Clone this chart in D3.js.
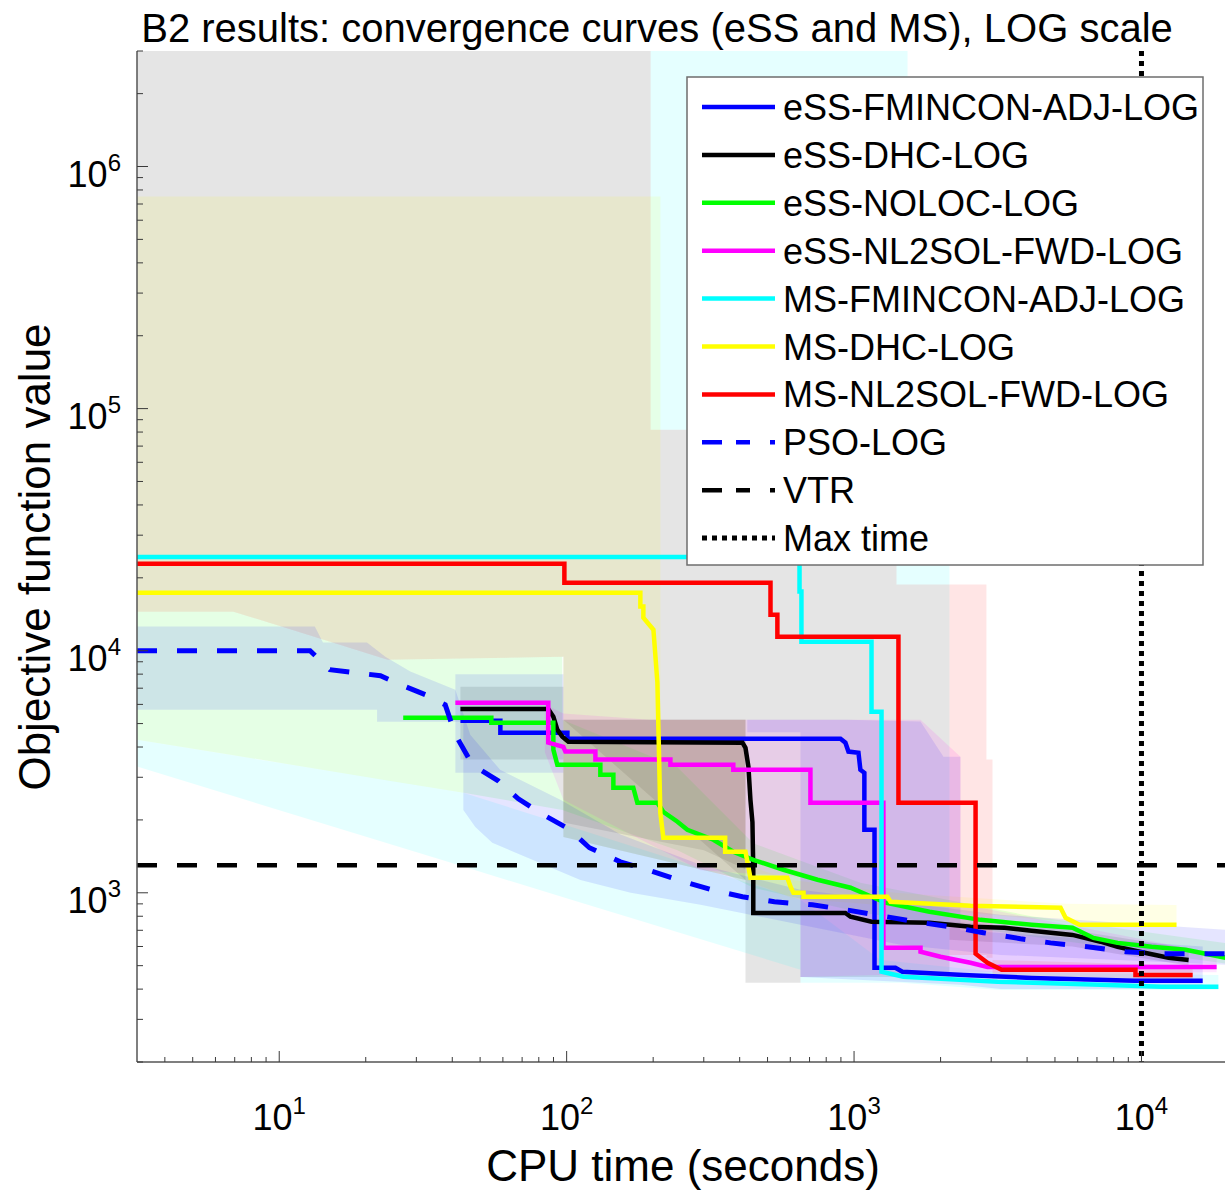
<!DOCTYPE html>
<html><head><meta charset="utf-8">
<script src="https://cdn.jsdelivr.net/npm/d3@7"></script>
<style>
body{margin:0;background:#fff}
svg{display:block}
text{font-family:"Liberation Sans",Arial,Helvetica,sans-serif;fill:#000}
</style>
</head><body>
<svg id="c" width="1225" height="1191"></svg>
<script>
// ---------------- DATA ----------------
const titleText = "B2 results: convergence curves (eSS and MS), LOG scale";
const xLabelText = "CPU time (seconds)";
const yLabelText = "Objective function value";

const seriesNames = ["eSS-FMINCON-ADJ-LOG","eSS-DHC-LOG","eSS-NOLOC-LOG","eSS-NL2SOL-FWD-LOG",
  "MS-FMINCON-ADJ-LOG","MS-DHC-LOG","MS-NL2SOL-FWD-LOG","PSO-LOG"];
const seriesColors = ["#0000ff","#000000","#00ff00","#ff00ff","#00ffff","#ffff00","#ff0000","#0000ff"];

// [CPU time (s), objective value]
const essFminconAdj = [[42.7,5140],[58.8,5140],[58.8,4580],[100.6,4580],[100.6,4330],[897,4330],[933,4170],[956,3830],[1036,3790],[1052,3220],[1086,3130],[1086,1820],[1178,1820],[1178,490],[1393,490],[1472,472],[2404,458],[4145,445],[9462,433],[16330,433]];
const essDhc = [[42.7,5750],[86.3,5750],[89.9,5340],[92.8,4720],[96.6,4410],[101.4,4210],[409,4170],[419,3970],[429,3320],[436,2420],[443,1960],[446,1245],[446,826],[933,826],[972,796],[1150,759],[1830,752],[2541,724],[3337,717],[4145,697],[5754,670],[7205,628],[8257,598],[10250,565],[12420,539],[14590,528]];
const essNoloc = [[27.0,5280],[54.7,5280],[54.7,5040],[89.9,5040],[89.9,3900],[92.8,3380],[131,3380],[131,3070],[145.4,3070],[145.4,2715],[170.6,2715],[176.2,2355],[206.9,2355],[217,2160],[243,1965],[263,1820],[324,1656],[380,1477],[446,1368],[568,1245],[746,1132],[972,1049],[1285,910],[1830,835],[2754,773],[4145,738],[5754,717],[6808,651],[8257,621],[10840,598],[14240,582],[19620,539]];
const essNl2solFwd = [[41.0,6100],[86.3,6100],[86.3,4170],[97.4,4010],[99.0,3830],[125.9,3830],[125.9,3550],[229.6,3550],[229.6,3380],[380,3380],[380,3220],[705,3220],[705,2355],[1265,2355],[1265,593],[1703,593],[1703,571],[1999,544],[2541,514],[2911,494],[18260,494]];
const msFminconAdj = [[3.2,24400],[646,24400],[646,17540],[656,17540],[656,10890],[1150,10890],[1150,5600],[1246,5600],[1246,472],[1486,450],[3155,429],[7205,417],[11750,409],[18520,409]];
const msDhc = [[3.2,17370],[180.5,17370],[180.5,15210],[184.9,15210],[184.9,13690],[200.4,12210],[206.9,7380],[211.8,2140],[217,1687],[356,1687],[356,1477],[419,1477],[436,1153],[586,1153],[601,1059],[615,1000],[667,1000],[667,963],[1306,963],[1339,918],[2541,884],[5230,867],[5445,789],[6088,738],[13240,738]];
const msNl2solFwd = [[3.2,22880],[98.2,22880],[98.2,19100],[512,19100],[512,14090],[541,14090],[541,11430],[1427,11430],[1427,2355],[2647,2355],[2647,560],[2913,514],[3260,481],[9530,481],[9530,458],[15070,458]];
const psoLog = [[3.2,10000],[12.8,10000],[15.0,8350],[22.5,7880],[26.4,7240],[32.2,6580],[37.8,5980],[41.0,4500],[47.0,3380],[57.8,2900],[67.9,2445],[82.9,2100],[101.4,1840],[120,1535],[153.8,1343],[191,1245],[243,1132],[329,1019],[409,963],[528,918],[716,892],[933,851],[1236,804],[1637,759],[2165,724],[2818,684],[3793,646],[4826,621],[6490,598],[8806,571],[11650,560],[20000,560]];

const vtrValue = 1300;
const maxTimeValue = 10000;

// shaded ranges: upper (hi) and lower (lo) boundaries, [time, value], both in increasing time
const bandDhc = [
  {hi:[[3.2,5e6],[196,5e6],[196,81800],[1405,81800],[1405,18750],[2148,18750]],
   lo:[[3.2,14500],[6.92,14500],[23.8,9180],[97.4,9440],[97.4,5190],[419,1130],[419,425],[651,425],[651,449],[2148,449]]},
  {hi:[[42.7,7100],[97.4,7100]], lo:[[42.7,3550],[97.4,3550]]},
  {hi:[[97.4,5190],[419,5190]], lo:[[97.4,1700],[419,1130]]},
  {hi:[[97.4,5190],[419,5190]], lo:[[97.4,1950],[300,1500],[419,1250]]},
  {hi:[[2148,760],[5754,700],[14590,590]], lo:[[2148,640],[5754,600],[14590,500]]}
];
const bandMsDhc = [
  {hi:[[3.2,752000],[212,752000]], lo:[[3.2,14500],[6.92,14500],[23.8,9180],[97.4,9440],[97.4,5190],[212,5190]]},
  {hi:[[97.4,5190],[419,5190],[419,1300],[610,1130],[1393,1000],[5445,900],[13240,890]],
   lo:[[97.4,1700],[419,1130],[610,950],[1393,880],[5445,760],[13240,720]]}
];
const bandNoloc = [
  {hi:[[3.2,14500],[6.92,14500],[23.8,9180],[96.6,9440],[96.6,5190],[243,3300],[446,1600],[1052,1100],[4145,800],[19620,620]],
   lo:[[3.2,4290],[6.92,3700],[23.8,2910],[43.7,2590],[96.6,2200],[243,1500],[446,1050],[1052,830],[4145,660],[19620,510]]}
];
const bandMsFmincon = [
  {hi:[[196,5e6],[1535,5e6]], lo:[[196,81800],[1535,81800]]},
  {hi:[[1405,81800],[2148,81800]], lo:[[1405,18750],[2148,18750]]},
  {hi:[[3.2,4290],[43.7,2590],[111.6,1820],[651,935],[1236,528],[3233,470],[18520,458]],
   lo:[[3.2,3320],[43.7,1283],[111.6,912],[651,481],[651,425],[1450,425],[3233,397],[18520,397]]}
];
const bandPso = [
  {hi:[[3.2,12600],[13.3,12600],[14.2,10800],[20.2,10800],[23.4,9440],[28.6,8200],[41.0,6900],[46.2,4500],[58.7,3220],[95.1,2420],[154,1740],[292,1305],[651,1029],[3233,811],[19620,703]],
   lo:[[3.2,5700],[21.9,5700],[21.9,5090],[43.7,5090],[43.7,2200],[48.1,1870],[55.1,1610],[66.8,1460],[111.6,1130],[167,1000],[292,892],[651,738],[1450,610],[3233,554],[19620,504]]}
];
const bandEssFmincon = [
  {hi:[[41,8000],[97.4,8000]], lo:[[41,3130],[97.4,3130]]},
  {hi:[[425,5190],[651,5190],[948,5190],[1703,5100],[2047,3650],[2345,3650],[2345,700],[16330,600]],
   lo:[[425,4600],[651,4600],[651,449],[2345,417],[3233,400],[16330,400]]}
];
const bandNl2sol = [
  {hi:[[84,6000],[97.4,5500],[196,5190],[1703,5190],[2345,3650],[2345,900],[18260,560]],
   lo:[[84,3800],[97.4,2420],[292,1240],[651,1164],[651,449],[2888,470],[18260,470]]}
];
const bandMsNl2sol = [
  {hi:[[2148,18750],[2888,18750],[2888,3550],[3032,3550],[3032,528],[15070,500]],
   lo:[[2148,554],[2888,554],[2888,539],[3032,539],[3032,440],[15070,440]]}
];

const xTickValues = [10,100,1000,10000];
const xTickExponents = ["1","2","3","4"];
const yTickValues = [1e3,1e4,1e5,1e6];
const yTickExponents = ["3","4","5","6"];
const xDomain = [3.2, 20000];
const yDomain = [200, 3e6];

// ---------------- DRAW ----------------
const svg = d3.select("#c");
const L = 137, R = 1228, T = 51, B = 1062;
const x = d3.scaleLog().domain(xDomain).range([L, R]);
const y = d3.scaleLog().domain(yDomain).range([B, T]);

svg.append("defs").append("clipPath").attr("id","plotclip")
  .append("rect").attr("x",L).attr("y",T).attr("width",R-L).attr("height",B-T);

const plot = svg.append("g").attr("clip-path","url(#plotclip)");
const poly = d3.line().x(d=>x(d[0])).y(d=>y(d[1]));

function drawBand(pieces, color){
  pieces.forEach(p=>{
    const pts = p.hi.concat(p.lo.slice().reverse());
    plot.append("path").attr("d", poly(pts)+"Z")
      .attr("fill", color).attr("fill-opacity", 0.1).attr("stroke","none");
  });
}
drawBand(bandDhc, "#000000");
drawBand(bandMsDhc, "#ffff00");
drawBand(bandNoloc, "#00ff00");
drawBand(bandMsFmincon, "#00ffff");
drawBand(bandPso, "#0000ff");
drawBand(bandEssFmincon, "#0000ff");
drawBand(bandNl2sol, "#ff00ff");
drawBand(bandMsNl2sol, "#ff0000");

const seriesData = [essFminconAdj, essDhc, essNoloc, essNl2solFwd, msFminconAdj, msDhc, msNl2solFwd];
seriesData.forEach((s,i)=>{
  plot.append("path").attr("d", poly(s)).attr("fill","none")
    .attr("stroke", seriesColors[i]).attr("stroke-width",4.5)
    .attr("stroke-linejoin","miter");
});
plot.append("path").attr("d", poly(psoLog)).attr("fill","none")
  .attr("stroke", seriesColors[7]).attr("stroke-width",5)
  .attr("stroke-dasharray","20,20");

// VTR
plot.append("line").attr("x1",L).attr("x2",R).attr("y1",y(vtrValue)).attr("y2",y(vtrValue))
  .attr("stroke","#000").attr("stroke-width",4.5).attr("stroke-dasharray","20,20");
// Max time
svg.append("line").attr("x1",x(maxTimeValue)).attr("x2",x(maxTimeValue)).attr("y1",T).attr("y2",B)
  .attr("stroke","#000").attr("stroke-width",5).attr("stroke-dasharray","5,5");

// Axes
const axisColor = "#3a3a3a";
const axes = svg.append("g");
axes.append("line").attr("x1",L).attr("x2",L).attr("y1",T).attr("y2",B).attr("stroke","#555").attr("stroke-width",1.5);
axes.append("line").attr("x1",L).attr("x2",1225).attr("y1",B).attr("y2",B).attr("stroke","#555").attr("stroke-width",1.5);

const xAll = [];
for (let e=0;e<=4;e++) for (let m=1;m<=9;m++){ const v=m*Math.pow(10,e); if(v>=xDomain[0] && v<=xDomain[1]) xAll.push(v); }
xAll.forEach(v=>{
  const major = xTickValues.includes(v);
  axes.append("line").attr("x1",x(v)).attr("x2",x(v)).attr("y1",B).attr("y2",B-(major?11:5))
    .attr("stroke",axisColor).attr("stroke-width",1);
});
const yAll = [];
for (let e=2;e<=6;e++) for (let m=1;m<=9;m++){ const v=m*Math.pow(10,e); if(v>=yDomain[0] && v<=yDomain[1]) yAll.push(v); }
yAll.forEach(v=>{
  const major = yTickValues.includes(v);
  axes.append("line").attr("x1",L).attr("x2",L+(major?11:6)).attr("y1",y(v)).attr("y2",y(v))
    .attr("stroke",axisColor).attr("stroke-width",1);
});

xTickValues.forEach((v,i)=>{
  const t = axes.append("text").attr("x",x(v)).attr("y",1130).attr("text-anchor","middle")
    .style("font-size","36px").attr("fill","#262626");
  t.append("tspan").text("10");
  t.append("tspan").attr("dy",-16).style("font-size","24px").text(xTickExponents[i]);
});
yTickValues.forEach((v,i)=>{
  const t = axes.append("text").attr("x",121).attr("y",y(v)+20).attr("text-anchor","end")
    .style("font-size","36px").attr("fill","#262626");
  t.append("tspan").text("10");
  t.append("tspan").attr("dy",-16).style("font-size","24px").text(yTickExponents[i]);
});

svg.append("text").attr("x",683).attr("y",1181).attr("text-anchor","middle")
  .style("font-size","44px").attr("fill","#262626").text(xLabelText);
svg.append("text").attr("transform","translate(50,557) rotate(-90)").attr("text-anchor","middle")
  .style("font-size","44px").attr("fill","#262626").text(yLabelText);
svg.append("text").attr("x",657).attr("y",42).attr("text-anchor","middle")
  .style("font-size","40px").text(titleText);

// legend
const lg = svg.append("g");
lg.append("rect").attr("x",687).attr("y",77).attr("width",516).attr("height",488)
  .attr("fill","#fff").attr("stroke","#6e6e6e").attr("stroke-width",1.5);
const legendNames = seriesNames.concat(["VTR","Max time"]);
const legendColors = seriesColors.concat(["#000","#000"]);
const legendDash = [null,null,null,null,null,null,null,"20,14,14,20,6","20,14,14,20,6","5,5"];
legendNames.forEach((nm,i)=>{
  const cy = 107 + i*47.9;
  lg.append("line").attr("x1",702).attr("x2",775).attr("y1",cy).attr("y2",cy)
    .attr("stroke",legendColors[i]).attr("stroke-width", i===9?5:4.5)
    .attr("stroke-dasharray", legendDash[i]);
  lg.append("text").attr("x",783).attr("y",cy+13).style("font-size","36px").text(nm);
});
</script>
</body></html>
